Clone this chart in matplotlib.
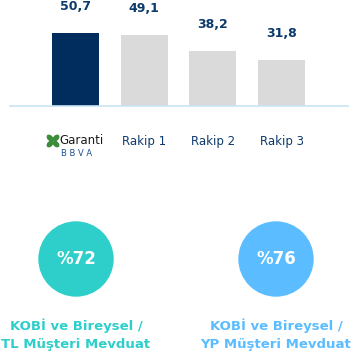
import matplotlib.pyplot as plt
from matplotlib.patches import Circle, Ellipse

# data
banks = ["Garanti BBVA", "Rakip 1", "Rakip 2", "Rakip 3"]
shares = [50.7, 49.1, 38.2, 31.8]
share_labels = ["50,7", "49,1", "38,2", "31,8"]
circle_values = ["%72", "%76"]
circle_titles = ["KOBİ ve Bireysel /\nTL Müşteri Mevduat", "KOBİ ve Bireysel /\nYP Müşteri Mevduat"]

W, H = 354, 352
NAVY = "#002C5E"
GREY = "#DADADA"
LABEL = "#0D3A6C"
circle_colors = ["#2ECFCB", "#5BBDFF"]

plt.rcParams['font.family'] = ['DejaVu Sans']

fig = plt.figure(figsize=(W / 100, H / 100), dpi=100)

# bar chart, baseline at y=106px
base_y = 106
ax = fig.add_axes([10 / W, (H - base_y) / H, 338 / W, base_y / H])
colors = [NAVY] + [GREY] * (len(shares) - 1)
x = list(range(len(shares)))
ax.bar(x, shares, width=0.684, color=colors)
ax.set_xlim(-0.953, 3.967)
ax.set_ylim(0, base_y / 1.44)
for xi, v, lab in zip(x, shares, share_labels):
    ax.annotate(lab, (xi, v), xytext=(0, 19), textcoords="offset points",
                ha="center", va="center", color=LABEL, fontsize=9, fontweight="bold")
for s in ["top", "right", "left"]:
    ax.spines[s].set_visible(False)
ax.spines["bottom"].set_color("#C9E4F5")
ax.spines["bottom"].set_linewidth(1.2)
ax.set_xticks([])
ax.set_yticks([])
ax.patch.set_alpha(0)

# overlay in pixel coordinates
ov = fig.add_axes([0, 0, 1, 1])
ov.set_xlim(0, W)
ov.set_ylim(H, 0)
ov.axis("off")
ov.patch.set_alpha(0)

# category labels
for xi, name in zip(x[1:], banks[1:]):
    px = 75.5 + xi * 68.7
    ov.text(px, 141, name, ha="center", va="center", color=LABEL, fontsize=8.5)

# Garanti BBVA logo (rough)
leaf = "#3C8C3A"
for dx, dy, ang in [(-3, -3, 45), (3, -3, -45), (-3, 3, -45), (3, 3, 45)]:
    ov.add_patch(Ellipse((53 + dx, 141 + dy), 6.5, 4, angle=ang, color=leaf))
ov.text(59.5, 140, "Garanti", ha="left", va="center", color="#1A1A1A", fontsize=8.5)
ov.text(61, 153, "B B V A", ha="left", va="center", color="#1D4F91", fontsize=6)

# circles
for cx, val, title, col in zip([76, 276], circle_values, circle_titles, circle_colors):
    ov.add_patch(Circle((cx, 259), 37, color=col))
    ov.text(cx, 259, val, ha="center", va="center", color="white",
            fontsize=12, fontweight="bold")
    ov.text(cx, 334.5, title, ha="center", va="center", color=col,
            fontsize=9.5, fontweight="bold", linespacing=1.45)

fig.savefig("out.png", dpi=100)
